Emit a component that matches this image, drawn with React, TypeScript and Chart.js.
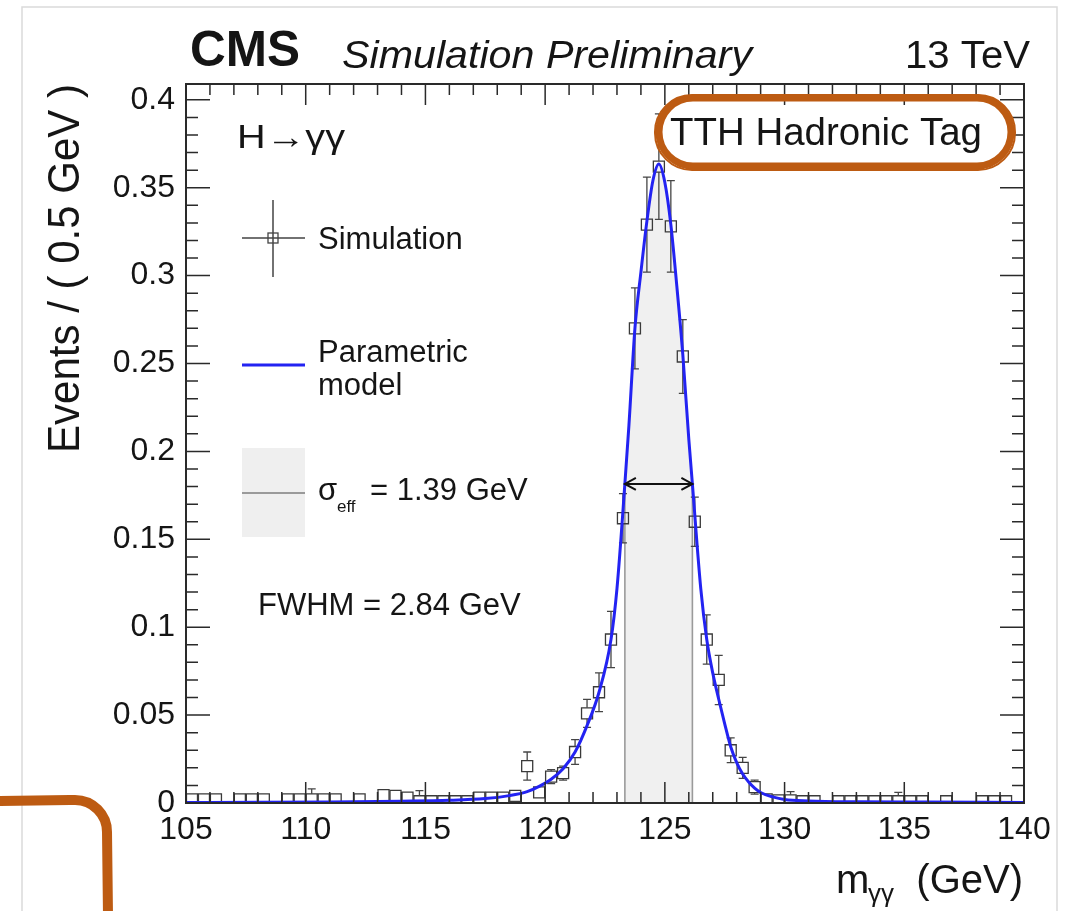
import React, { useEffect, useRef } from "react";
import { Chart, registerables } from "chart.js";

Chart.register(...registerables);

const W = 1077;
const H = 911;
const FONT = '"Liberation Sans", Arial, Helvetica, sans-serif';
const TEXT = "#151515";

// ---- axis setup ----
const X_MIN = 105;
const X_MAX = 140;
const Y_MIN = 0;
const Y_MAX = 0.409;
const xTickLabels = ["105", "110", "115", "120", "125", "130", "135", "140"];
const yTickLabels = ["0", "0.05", "0.1", "0.15", "0.2", "0.25", "0.3", "0.35", "0.4"];

// ---- simulated events (bin centres, 0.5 GeV bins) ----
const simMass = [
  105.25, 105.75, 106.25, 107.25, 107.75, 108.25, 109.25, 109.75, 110.25, 110.75, 111.25, 112.25,
  113.25, 113.75, 114.25, 114.75, 115.25, 115.75, 116.25, 116.75, 117.25, 117.75, 118.25, 118.75,
  119.25, 119.75, 120.25, 120.75, 121.25, 121.75, 122.25, 122.75, 123.25, 123.75, 124.25, 124.75,
  125.25, 125.75, 126.25, 126.75, 127.25, 127.75, 128.25, 128.75,
  129.25, 129.75, 130.25, 130.75, 131.25, 132.25, 132.75, 133.25, 133.75, 134.25, 134.75, 135.25,
  135.75, 136.75, 138.25, 138.75, 139.25,
];
const simEvents = [
  0.002, 0.002, 0.002, 0.002, 0.002, 0.002, 0.002, 0.002, 0.002, 0.002, 0.002, 0.002,
  0.0045, 0.004, 0.003, 0.001, 0.001, 0.001, 0.001, 0.001, 0.003, 0.003, 0.003, 0.004,
  0.021, 0.006, 0.015, 0.017, 0.029, 0.051, 0.063, 0.093, 0.162, 0.27, 0.329, 0.362,
  0.328, 0.254, 0.16, 0.093, 0.07, 0.03, 0.02, 0.009,
  0.002, 0.0015, 0.0015, 0.001, 0.001, 0.001, 0.001, 0.001, 0.001, 0.001, 0.001, 0.001,
  0.001, 0.001, 0.001, 0.001, 0.001,
];
const simErrors = [
  0.002, 0.002, 0.002, 0.002, 0.002, 0.002, 0.002, 0.002, 0.006, 0.002, 0.002, 0.002,
  0.002, 0.002, 0.002, 0.006, 0.002, 0.002, 0.002, 0.002, 0.002, 0.002, 0.002, 0.002,
  0.008, 0.003, 0.004, 0.004, 0.007, 0.008, 0.011, 0.016, 0.014, 0.023, 0.027, 0.03,
  0.026, 0.021, 0.014, 0.014, 0.014, 0.007, 0.006, 0.004,
  0.002, 0.002, 0.005, 0.002, 0.002, 0.002, 0.002, 0.002, 0.002, 0.002, 0.005, 0.002,
  0.002, 0.002, 0.003, 0.002, 0.002,
];

// ---- parametric model ----
const modelMass = [
  105, 108, 111, 114, 116, 117.5, 118.5, 119.25, 119.75, 120.25,
  120.75, 121.25, 121.75, 122.25, 122.75, 123, 123.33, 123.5, 123.75, 124,
  124.25, 124.5, 124.75, 125, 125.25, 125.5, 125.75, 126, 126.15, 126.5,
  126.75, 127, 127.25, 127.5, 127.75, 128, 128.25, 128.5, 128.75, 129,
  129.5, 130, 131, 133, 136, 140,
];
const modelEvents = [
  0.0003, 0.0004, 0.0006, 0.001, 0.0015, 0.0025, 0.0042, 0.0065, 0.0095, 0.0135,
  0.0195, 0.029, 0.044, 0.063, 0.093, 0.122, 0.1815, 0.215, 0.27, 0.302,
  0.331, 0.354, 0.3635, 0.353, 0.329, 0.294, 0.255, 0.207, 0.1815, 0.122,
  0.093, 0.074, 0.059, 0.045, 0.032, 0.023, 0.0165, 0.012, 0.0085, 0.006,
  0.0035, 0.002, 0.0012, 0.0007, 0.0005, 0.0003,
];

// sigma_eff window and FWHM arrow
const sigmaEffLow = 123.33;
const sigmaEffHigh = 126.15;
const fwhmLevel = 0.1815;

// ---- texts ----
const cmsLabel = "CMS";
const subLabel = "Simulation Preliminary";
const energyLabel = "13 TeV";
const channelLabel = "H\u2192\u03b3\u03b3";
const categoryLabel = "TTH Hadronic Tag";
const yTitle = "Events / ( 0.5 GeV )";
const legendSim = "Simulation";
const legendModel = ["Parametric", "model"];
const sigmaText = "= 1.39 GeV";
const fwhmText = "FWHM = 2.84 GeV";

const modelAt = (m: number) => modelEvents[modelMass.indexOf(m)];

function drawText(
  ctx: CanvasRenderingContext2D,
  text: string,
  x: number,
  y: number,
  size: number,
  opts: { weight?: string; style?: string; align?: CanvasTextAlign; color?: string; width?: number } = {}
) {
  ctx.save();
  ctx.font = `${opts.style || "normal"} ${opts.weight || "normal"} ${size}px ${FONT}`;
  ctx.fillStyle = opts.color || TEXT;
  ctx.textAlign = opts.align || "left";
  ctx.textBaseline = "alphabetic";
  ctx.translate(x, y);
  if (opts.width) {
    const w = ctx.measureText(text).width;
    ctx.scale(opts.width / w, 1);
  }
  ctx.fillText(text, 0, 0);
  ctx.restore();
}

const decorPlugin = {
  id: "cmsDecor",
  beforeDraw(chart: any) {
    const ctx: CanvasRenderingContext2D = chart.ctx;
    ctx.save();
    ctx.fillStyle = "#ffffff";
    ctx.fillRect(0, 0, chart.width, chart.height);
    ctx.strokeStyle = "#dadada";
    ctx.lineWidth = 1.5;
    ctx.beginPath();
    ctx.moveTo(22, H);
    ctx.lineTo(22, 7);
    ctx.lineTo(1057, 7);
    ctx.lineTo(1057, H);
    ctx.stroke();
    ctx.restore();
  },
  afterDatasetDraw(chart: any, args: any) {
    const ds = chart.data.datasets[args.index];
    if (ds.label !== legendSim) return;
    const ctx: CanvasRenderingContext2D = chart.ctx;
    const xs = chart.scales.x;
    const ys = chart.scales.y;
    const a = chart.chartArea;
    ctx.save();
    ctx.beginPath();
    ctx.rect(a.left, a.top, a.right - a.left, a.bottom - a.top);
    ctx.clip();
    ctx.strokeStyle = "#454545";
    ctx.lineWidth = 1.3;
    const h = 5.5;
    simMass.forEach((m, i) => {
      const px = xs.getPixelForValue(m);
      const py = ys.getPixelForValue(simEvents[i]);
      const hi = ys.getPixelForValue(simEvents[i] + simErrors[i]);
      const lo = ys.getPixelForValue(simEvents[i] - simErrors[i]);
      ctx.beginPath();
      if (hi < py - h) {
        ctx.moveTo(px, py - h);
        ctx.lineTo(px, hi);
        ctx.moveTo(px - 4, hi);
        ctx.lineTo(px + 4, hi);
      }
      if (lo > py + h) {
        ctx.moveTo(px, py + h);
        ctx.lineTo(px, lo);
        ctx.moveTo(px - 4, lo);
        ctx.lineTo(px + 4, lo);
      }
      ctx.stroke();
    });
    ctx.restore();
  },
  afterDraw(chart: any) {
    const ctx: CanvasRenderingContext2D = chart.ctx;
    const xs = chart.scales.x;
    const ys = chart.scales.y;
    const a = chart.chartArea;

    // FWHM arrow
    ctx.save();
    const ay = ys.getPixelForValue(fwhmLevel);
    const ax1 = xs.getPixelForValue(sigmaEffLow);
    const ax2 = xs.getPixelForValue(sigmaEffHigh);
    ctx.strokeStyle = "#111";
    ctx.lineWidth = 2;
    ctx.beginPath();
    ctx.moveTo(ax1, ay);
    ctx.lineTo(ax2, ay);
    ctx.moveTo(ax1 + 11, ay - 6);
    ctx.lineTo(ax1, ay);
    ctx.lineTo(ax1 + 11, ay + 6);
    ctx.moveTo(ax2 - 11, ay - 6);
    ctx.lineTo(ax2, ay);
    ctx.lineTo(ax2 - 11, ay + 6);
    ctx.stroke();
    ctx.restore();

    // frame + inward ticks
    ctx.save();
    ctx.strokeStyle = "#2a2a2a";
    ctx.lineWidth = 2;
    ctx.strokeRect(a.left, a.top, a.right - a.left, a.bottom - a.top);
    ctx.lineWidth = 1.5;
    ctx.beginPath();
    for (let v = X_MIN; v <= X_MAX; v++) {
      const len = v % 5 === 0 ? 21 : 11;
      const px = xs.getPixelForValue(v);
      ctx.moveTo(px, a.bottom);
      ctx.lineTo(px, a.bottom - len);
      ctx.moveTo(px, a.top);
      ctx.lineTo(px, a.top + len);
    }
    for (let k = 0; k <= 40; k++) {
      const len = k % 5 === 0 ? 24 : 12;
      const py = ys.getPixelForValue(k / 100);
      ctx.moveTo(a.left, py);
      ctx.lineTo(a.left + len, py);
      ctx.moveTo(a.right, py);
      ctx.lineTo(a.right - len, py);
    }
    ctx.stroke();
    ctx.restore();

    // header
    drawText(ctx, cmsLabel, 190, 66, 50, { weight: "bold", width: 110 });
    drawText(ctx, subLabel, 342, 68, 39, { style: "italic", width: 410 });
    drawText(ctx, energyLabel, 1030, 68, 39, { align: "right", width: 125 });

    // axis titles
    ctx.save();
    ctx.translate(79, 84);
    ctx.rotate(-Math.PI / 2);
    drawText(ctx, yTitle, 0, 0, 44, { align: "right", width: 369 });
    ctx.restore();
    drawText(ctx, "m", 836, 893, 40);
    drawText(ctx, "\u03b3\u03b3", 868, 902, 26);
    drawText(ctx, "(GeV)", 1023, 893, 40, { align: "right" });

    // in-plot labels
    drawText(ctx, channelLabel, 237, 148, 33, { width: 108 });
    drawText(ctx, categoryLabel, 670, 145, 38, { width: 312 });

    // legend: simulation
    ctx.save();
    ctx.strokeStyle = "#444";
    ctx.lineWidth = 1.5;
    ctx.beginPath();
    ctx.moveTo(242, 238);
    ctx.lineTo(305, 238);
    ctx.moveTo(273, 200);
    ctx.lineTo(273, 277);
    ctx.stroke();
    ctx.lineWidth = 1.3;
    ctx.strokeRect(268, 233, 10, 10);
    ctx.restore();
    drawText(ctx, legendSim, 318, 249, 31);

    // legend: model
    ctx.save();
    ctx.strokeStyle = "#2323f2";
    ctx.lineWidth = 3;
    ctx.beginPath();
    ctx.moveTo(242, 365);
    ctx.lineTo(305, 365);
    ctx.stroke();
    ctx.restore();
    drawText(ctx, legendModel[0], 318, 362, 31);
    drawText(ctx, legendModel[1], 318, 395, 31);

    // legend: sigma_eff
    ctx.save();
    ctx.fillStyle = "#efefef";
    ctx.fillRect(242, 448, 63, 89);
    ctx.strokeStyle = "#9a9a9a";
    ctx.lineWidth = 2;
    ctx.beginPath();
    ctx.moveTo(242, 493);
    ctx.lineTo(305, 493);
    ctx.stroke();
    ctx.restore();
    drawText(ctx, "\u03c3", 318, 500, 31);
    drawText(ctx, "eff", 337, 512, 17);
    drawText(ctx, sigmaText, 370, 500, 31);

    drawText(ctx, fwhmText, 258, 615, 31);

    // hand-drawn orange annotations
    ctx.save();
    ctx.strokeStyle = "#bd5b12";
    ctx.lineCap = "round";
    ctx.lineJoin = "round";
    const rr = (x0: number, y0: number, x1: number, y1: number, r: number) => {
      ctx.beginPath();
      ctx.moveTo(x0 + r, y0);
      ctx.lineTo(x1 - r, y0);
      ctx.arcTo(x1, y0, x1, y0 + r, r);
      ctx.arcTo(x1, y1, x1 - r, y1, r);
      ctx.lineTo(x0 + r, y1);
      ctx.arcTo(x0, y1, x0, y1 - r, r);
      ctx.arcTo(x0, y0, x0 + r, y0, r);
      ctx.closePath();
      ctx.stroke();
    };
    ctx.lineWidth = 7;
    rr(659, 98, 1011, 166, 34);
    ctx.lineWidth = 2;
    rr(655, 95, 1015, 170, 37);
    ctx.lineWidth = 10;
    ctx.beginPath();
    ctx.moveTo(0, 801);
    ctx.lineTo(70, 800);
    ctx.arcTo(107, 800, 107, 840, 32);
    ctx.lineTo(108, H + 5);
    ctx.stroke();
    ctx.restore();
  },
};

export default function App() {
  const ref = useRef<HTMLCanvasElement>(null);

  useEffect(() => {
    const canvas = ref.current;
    if (!canvas) return;

    const simPoints = simMass.map((m, i) => ({ x: m, y: simEvents[i] }));
    const modelPoints = modelMass.map((m, i) => ({ x: m, y: modelEvents[i] }));
    const shadePoints = modelPoints.filter((p) => p.x >= sigmaEffLow && p.x <= sigmaEffHigh);

    const chart = new Chart(canvas, {
      type: "line",
      data: {
        datasets: [
          {
            label: "Parametric model",
            data: modelPoints,
            borderColor: "#2323f2",
            borderWidth: 3,
            pointRadius: 0,
            fill: false,
            cubicInterpolationMode: "monotone",
            order: 0,
          },
          {
            label: legendSim,
            data: simPoints,
            showLine: false,
            pointStyle: "rect",
            pointRadius: 7.8,
            pointBorderWidth: 1.3,
            pointBorderColor: "#3a3a3a",
            pointBackgroundColor: "rgba(0,0,0,0)",
            order: 1,
          },
          {
            label: "edgeLow",
            data: [
              { x: sigmaEffLow, y: 0 },
              { x: sigmaEffLow, y: modelAt(sigmaEffLow) },
            ],
            borderColor: "#9a9a9a",
            borderWidth: 1.6,
            pointRadius: 0,
            fill: false,
            order: 2,
          },
          {
            label: "edgeHigh",
            data: [
              { x: sigmaEffHigh, y: 0 },
              { x: sigmaEffHigh, y: modelAt(sigmaEffHigh) },
            ],
            borderColor: "#9a9a9a",
            borderWidth: 1.6,
            pointRadius: 0,
            fill: false,
            order: 2,
          },
          {
            label: "sigmaEff",
            data: shadePoints,
            borderWidth: 0,
            borderColor: "rgba(0,0,0,0)",
            backgroundColor: "#f0f0f0",
            pointRadius: 0,
            fill: "origin",
            cubicInterpolationMode: "monotone",
            order: 3,
          },
        ],
      },
      options: {
        responsive: false,
        animation: false,
        devicePixelRatio: 1,
        events: [],
        layout: { padding: { left: 0, right: 53, top: 84, bottom: 0 } },
        plugins: { legend: { display: false }, tooltip: { enabled: false } },
        scales: {
          x: {
            type: "linear",
            min: X_MIN,
            max: X_MAX,
            grid: { display: false, drawTicks: false },
            border: { display: false },
            afterBuildTicks: (s: any) => {
              s.ticks = xTickLabels.map((t) => ({ value: parseFloat(t) }));
            },
            afterFit: (s: any) => {
              s.height = 108;
            },
            ticks: {
              callback: (_v: any, i: number) => xTickLabels[i],
              autoSkip: false,
              maxRotation: 0,
              minRotation: 0,
              padding: 8,
              color: TEXT,
              font: { family: FONT, size: 32 },
            },
          },
          y: {
            type: "linear",
            min: Y_MIN,
            max: Y_MAX,
            grid: { display: false, drawTicks: false },
            border: { display: false },
            afterBuildTicks: (s: any) => {
              s.ticks = yTickLabels.map((t) => ({ value: parseFloat(t) }));
            },
            afterFit: (s: any) => {
              s.width = 186;
            },
            ticks: {
              callback: (_v: any, i: number) => yTickLabels[i],
              autoSkip: false,
              padding: 11,
              color: TEXT,
              font: { family: FONT, size: 32 },
            },
          },
        },
      } as any,
      plugins: [decorPlugin],
    });

    return () => chart.destroy();
  }, []);

  return (
    <div style={{ position: "fixed", left: 0, top: 0, width: W, height: H, background: "#fff" }}>
      <canvas ref={ref} width={W} height={H} style={{ display: "block", width: W, height: H }} />
    </div>
  );
}
